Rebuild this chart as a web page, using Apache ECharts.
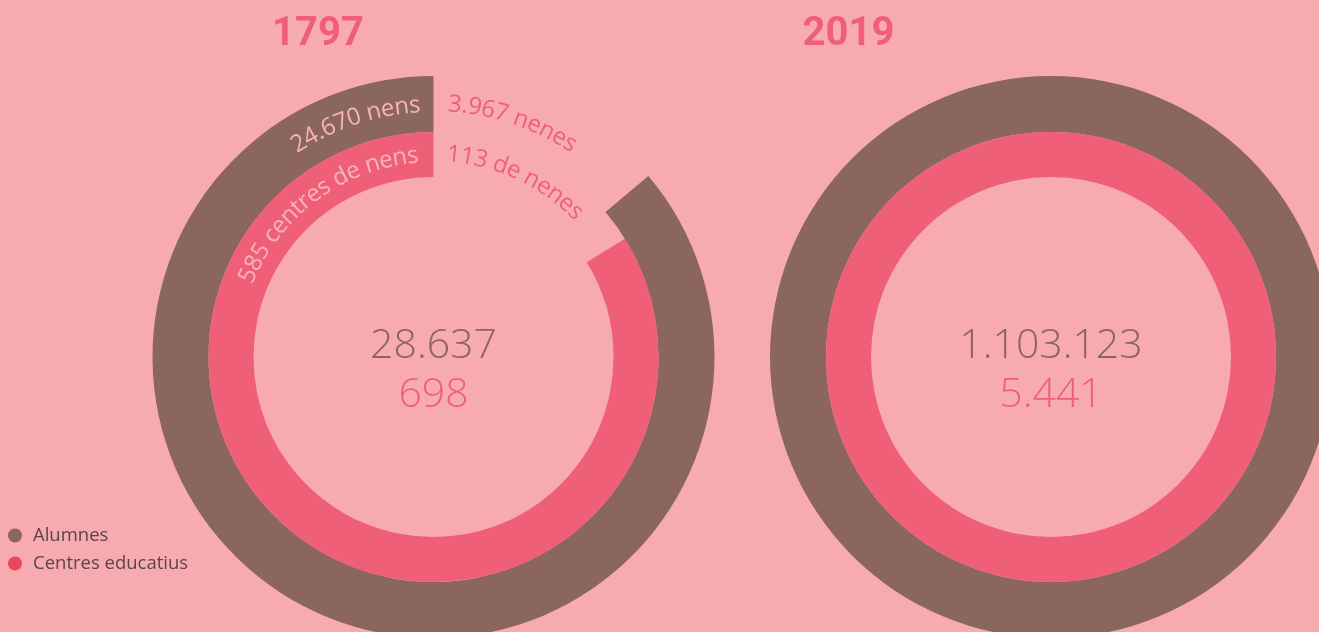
<!DOCTYPE html>
<html><head><meta charset="utf-8">
<script src="https://cdn.jsdelivr.net/npm/echarts@6/dist/echarts.min.js"></script>
<style>html,body{margin:0;padding:0;background:#f7abb0;}#c{width:1319px;height:632px;}</style>
</head><body><div id="c"></div>
<script>
// ---- data ----
const years = ['1797', '2019'];
const totalStudents = [28637, 1103123];
const totalCentres = [698, 5441];
const students1797 = [24670, 3967];      // nens, nenes
const centres1797 = [585, 113];          // centres de nens, de nenes
const labels1797Students = ['24.670 nens', '3.967 nenes'];
const labels1797Centres = ['585 centres de nens', '113 de nenes'];
const legendNames = ['Alumnes', 'Centres educatius'];

// ---- style ----
const BG = '#f7abb0', BROWN = '#8b665c', PINK = '#ef6078', LEG_RED = '#e8475c';
const LIGHT = '#f8b3b7', TXT = '#5b4548';
const FONT = '"Open Sans", "Noto Sans", sans-serif';
const CENTERS = [[433.5, 357], [1051, 357]];
const R_OUT = [225, 281], R_IN = [180, 225];

function fmt(n) { return String(n).replace(/\B(?=(\d{3})+(?!\d))/g, '.'); }

const chart = echarts.init(document.getElementById('c'), null, { renderer: 'canvas' });

const measureCtx = document.createElement('canvas').getContext('2d');
function arcText(str, cx, cy, r, anchorDeg, align, size, color) {
  measureCtx.font = size + 'px ' + FONT;
  const ws = [...str].map(ch => measureCtx.measureText(ch).width);
  const W = ws.reduce((a, b) => a + b, 0);
  const anchor = anchorDeg * Math.PI / 180;
  let a0 = align === 'end' ? anchor - W / r : anchor;
  const out = [];
  let acc = 0;
  [...str].forEach((ch, i) => {
    const a = a0 + (acc + ws[i] / 2) / r;
    acc += ws[i];
    if (ch === ' ') return;
    out.push({
      type: 'text', silent: true, z: 100,
      x: cx + r * Math.sin(a), y: cy - r * Math.cos(a), rotation: -a,
      style: { text: ch, fill: color, fontSize: size, fontFamily: FONT,
        align: 'center', verticalAlign: 'middle', textAlign: 'center', textVerticalAlign: 'middle' }
    });
  });
  return out;
}

const graphics = [];
years.forEach((y, i) => {
  const [cx, cy] = CENTERS[i];
  graphics.push({ type: 'text', silent: true, z: 100, x: [318, 848.5][i], y: 35,
    style: { text: y, fill: PINK, fontSize: 40, fontWeight: 'bold', fontFamily: '"Liberation Sans Narrow", Roboto, sans-serif',
      align: 'center', verticalAlign: 'middle', textAlign: 'center', textVerticalAlign: 'middle' } });
  graphics.push({ type: 'text', silent: true, z: 100, x: cx, y: cy - 11,
    style: { text: fmt(totalStudents[i]), fill: BROWN, fontSize: 41, fontWeight: 300, fontFamily: FONT,
      align: 'center', verticalAlign: 'middle', textAlign: 'center', textVerticalAlign: 'middle' } });
  graphics.push({ type: 'text', silent: true, z: 100, x: cx, y: cy + 38,
    style: { text: fmt(totalCentres[i]), fill: PINK, fontSize: 41, fontWeight: 300, fontFamily: FONT,
      align: 'center', verticalAlign: 'middle', textAlign: 'center', textVerticalAlign: 'middle' } });
});
const [c0x, c0y] = CENTERS[0];
graphics.push(...arcText(labels1797Students[0], c0x, c0y, 252, -3, 'end', 24, LIGHT));
graphics.push(...arcText(labels1797Students[1], c0x, c0y, 253, 3.3, 'start', 24, PINK));
graphics.push(...arcText(labels1797Centres[0], c0x, c0y, 202, -4.3, 'end', 24, LIGHT));
graphics.push(...arcText(labels1797Centres[1], c0x, c0y, 203, 3.8, 'start', 24, PINK));

function ring(center, radius, data) {
  return { type: 'pie', center, radius, startAngle: 90, clockwise: true, silent: true, z: 2,
    label: { show: false }, labelLine: { show: false }, emphasis: { disabled: true },
    itemStyle: { borderWidth: 0 }, data };
}

chart.setOption({
  backgroundColor: BG,
  animation: false,
  legend: {
    orient: 'vertical', left: 3, top: 521, itemGap: 9, itemWidth: 14, itemHeight: 14, icon: 'circle',
    selectedMode: false,
    textStyle: { color: TXT, fontSize: 18.5, fontFamily: FONT, padding: [0, 0, 0, 6] },
    data: [{ name: legendNames[0], itemStyle: { color: BROWN } }, { name: legendNames[1], itemStyle: { color: LEG_RED } }]
  },
  graphic: graphics,
  series: [
    ring(CENTERS[0], R_OUT, [
      { name: 'nenes', value: students1797[1], itemStyle: { color: 'rgba(0,0,0,0)' } },
      { name: legendNames[0], value: students1797[0], itemStyle: { color: BROWN } }]),
    ring(CENTERS[0], R_IN, [
      { name: 'de nenes', value: centres1797[1], itemStyle: { color: 'rgba(0,0,0,0)' } },
      { name: legendNames[1], value: centres1797[0], itemStyle: { color: PINK } }]),
    ring(CENTERS[1], R_OUT, [{ name: legendNames[0], value: totalStudents[1], itemStyle: { color: BROWN } }]),
    ring(CENTERS[1], R_IN, [{ name: legendNames[1], value: totalCentres[1], itemStyle: { color: PINK } }])
  ]
});
</script></body></html>
